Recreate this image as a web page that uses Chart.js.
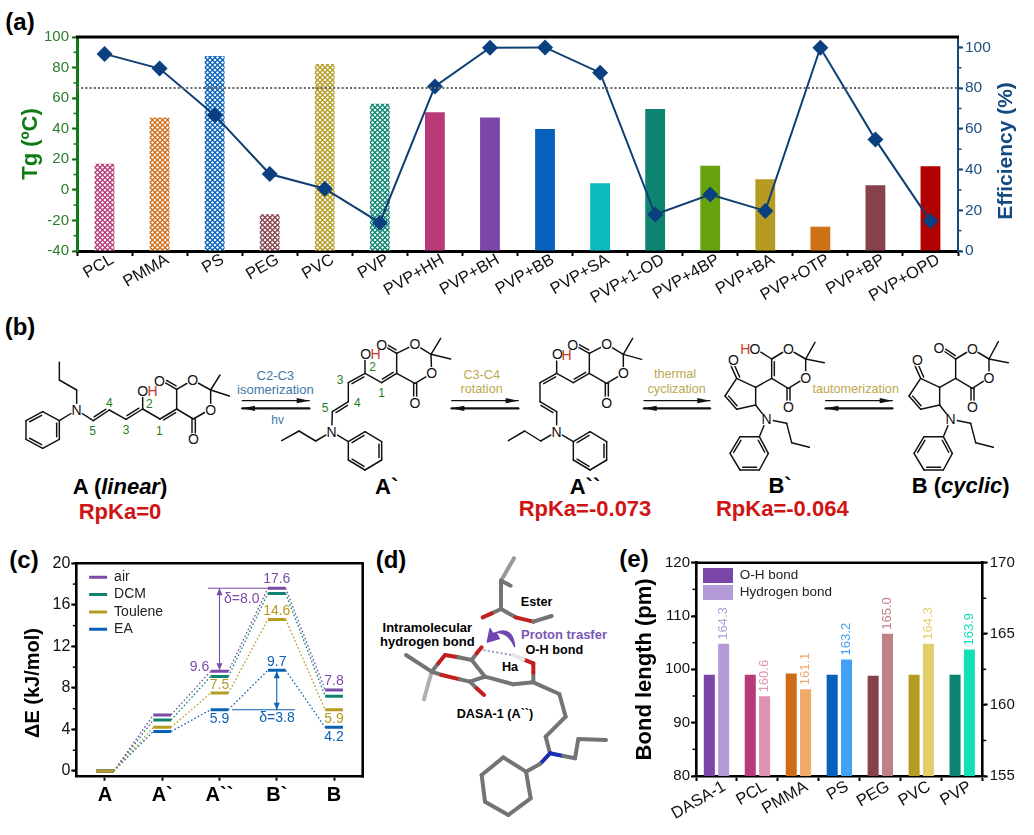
<!DOCTYPE html>
<html><head><meta charset="utf-8">
<script src="https://cdn.jsdelivr.net/npm/chart.js@4"></script>
<style>
html,body{margin:0;padding:0;background:#fff;width:1034px;height:835px;overflow:hidden}
canvas,svg{position:absolute}
</style></head><body>
<svg id="art" width="1034" height="835" style="left:0;top:0"></svg>
<canvas id="ca" width="1034" height="310" style="left:0;top:0;width:1034px;height:310px"></canvas>
<canvas id="cc" width="370" height="300" style="left:0;top:535px;width:370px;height:300px"></canvas>
<canvas id="ce" width="414" height="300" style="left:620px;top:535px;width:414px;height:300px"></canvas>
<script>
// ---------- panel (a) data
const polymerCategories = ['PCL','PMMA','PS','PEG','PVC','PVP','PVP+HH','PVP+BH','PVP+BB','PVP+SA','PVP+1-OD','PVP+4BP','PVP+BA','PVP+OTP','PVP+BP','PVP+OPD'];
const tgValues = [17.1,47.4,87.5,-16,82.3,56.3,50.7,47.3,39.8,4.3,52.9,15.8,7,-24.1,3,15.4];
const efficiencyValues = [96.8,89.6,66.7,37.8,30.6,13.9,80.8,99.8,100,87.6,17.9,27.7,19.7,99.8,54.7,14.7];
const barColors = ['#b83a78','#cf6d17','#0561bc','#85424a','#b59b22','#0b8470','#b83a78','#7a47a8','#0561bc','#0cb9bc','#0d8470','#68a30f','#b59b22','#cf7115','#85424a','#b00000'];
const hatchedBars = 6;
const efficiencyThreshold = 80;
// ---------- panel (c) data
const stateLabels = ['A','A`','A``','B`','B'];
const airEnergy = [0,5.4,9.6,17.6,7.8];
const dcmEnergy = [0,4.9,9.1,17.1,7.2];
const toluleneEnergy = [0,4.2,7.5,14.6,5.9];
const eaEnergy = [0,3.8,5.9,9.7,4.2];
// ---------- panel (e) data
const bondCategories = ['DASA-1','PCL','PMMA','PS','PEG','PVC','PVP'];
const ohBond = [99,99,99.2,99,98.8,99,99];
const hydrogenBond = [164.3,160.6,161.1,163.2,165.0,164.3,163.9];
const ohColors = ['#7a47a8','#b83a78','#cf6d17','#0561bc','#85424a','#b59b22','#0d8470'];
const hbColors = ['#b49bd8','#dd92b2','#f0ab6c','#44a0f5','#c08088','#e2cf6b','#14e0b8'];

const SANS = '"Liberation Sans", Arial, sans-serif';
Chart.defaults.font.family = SANS;
Chart.defaults.animation = false;
Chart.defaults.devicePixelRatio = 1;

function hatch(color){
  const c=document.createElement('canvas');c.width=c.height=5;
  const g=c.getContext('2d');g.fillStyle=color;g.fillRect(0,0,5,5);g.fillStyle='#fff';
  const r=1.6;
  [[2.5,2.5],[0,0],[5,0],[0,5],[5,5]].forEach(([x,y])=>{g.beginPath();g.moveTo(x-r,y);g.lineTo(x,y-r);g.lineTo(x+r,y);g.lineTo(x,y+r);g.closePath();g.fill();});
  return g.createPattern(c,'repeat');
}
const deco = {
  id:'deco',
  afterLayout(chart,args,o){
    if(o.legendShift && chart.legend){chart.legend.left+=o.legendShift[0];chart.legend.top+=o.legendShift[1];}
  },
  afterDatasetsDraw(chart,args,o){
    const g=chart.ctx,a=chart.chartArea;
    g.save();
    (o.minor||[]).forEach(m=>{
      const s=chart.scales[m.id];const dir=s.position==='left'?-1:1;
      const edge=s.position==='left'?a.left:a.right;
      g.strokeStyle=m.color;g.lineWidth=m.width||1.5;
      for(let v=Math.ceil(s.min/m.step)*m.step;v<=s.max;v+=m.step){
        const y=s.getPixelForValue(v);
        g.beginPath();g.moveTo(edge,y);g.lineTo(edge+dir*(m.len||3.5),y);g.stroke();
      }
    });
    (o.frame||[]).forEach(f=>{
      g.strokeStyle=f.color;g.lineWidth=f.width;g.beginPath();
      if(f.side==='top'){g.moveTo(a.left-1,a.top);g.lineTo(a.right+1,a.top);}
      if(f.side==='right'){g.moveTo(a.right,a.top-1);g.lineTo(a.right,a.bottom+1);}
      g.stroke();
    });
    if(o.draw)o.draw(chart,g);
    g.restore();
  }
};
function txt(g,t,x,y,color,font,rot){
  g.save();g.translate(x,y);if(rot)g.rotate(rot);
  g.font=font;g.fillStyle=color;g.textAlign='center';g.textBaseline='middle';g.fillText(t,0,0);g.restore();
}
function fixW(w){return s=>{s.width=w;};}
function fixH(h){return s=>{s.height=h;};}

// ---------- chart (a)
const GREEN='#0f7b14', NAVY='#154a80';
new Chart(document.getElementById('ca'),{
  type:'bar',
  plugins:[deco],
  data:{labels:polymerCategories,datasets:[
    {type:'line',label:'Efficiency',data:efficiencyValues,yAxisID:'y1',order:0,borderColor:'#0f3f72',borderWidth:2,tension:0,
     pointStyle:'rectRot',pointRadius:8,pointBackgroundColor:'#0a4080',pointBorderColor:'#0a4080',pointBorderWidth:0},
    {type:'bar',label:'Tg',data:tgValues,yAxisID:'y',order:1,base:-40,barPercentage:0.36,categoryPercentage:1,
     backgroundColor:barColors.map((c,i)=>i<hatchedBars?hatch(c):c)}
  ]},
  options:{responsive:false,maintainAspectRatio:false,
    layout:{padding:{top:37,left:0,right:0,bottom:0}},
    plugins:{legend:{display:false},tooltip:{enabled:false},
      deco:{
        minor:[{id:'y',step:10,color:GREEN},{id:'y1',step:10,color:NAVY}],
        frame:[{side:'top',color:'#000',width:3}],
        draw(chart,g){
          const a=chart.chartArea,y=chart.scales.y1.getPixelForValue(efficiencyThreshold);
          g.strokeStyle='#666';g.lineWidth=2;g.setLineDash([2,2.2]);
          g.beginPath();g.moveTo(a.left,y);g.lineTo(a.right,y);g.stroke();g.setLineDash([]);
          txt(g,'Efficiency (%)',1006.5,151,'#134a80','bold 21px '+SANS,-Math.PI/2);
        }
      }},
    scales:{
      x:{afterFit:fixH(59),grid:{drawOnChartArea:false,tickLength:5,tickWidth:2,tickColor:'#000'},border:{color:'#000',width:3},
        ticks:{color:'#111',font:{size:16.5},minRotation:30,maxRotation:30,autoSkip:false,padding:-6,labelOffset:8}},
      y:{position:'left',min:-40,max:100,afterFit:fixW(77),grid:{drawOnChartArea:false,tickLength:5,tickWidth:2,tickColor:GREEN},border:{color:GREEN,width:3},
        ticks:{stepSize:20,color:'#2a7d2a',font:{size:15},padding:3},
        title:{display:true,text:'Tg (ºC)',color:GREEN,font:{size:22,weight:'bold'},padding:{top:18,bottom:0}}},
      y1:{position:'right',min:0,max:105.1,afterFit:fixW(76),grid:{drawOnChartArea:false,tickLength:5,tickWidth:2,tickColor:NAVY},border:{color:NAVY,width:2},
        afterBuildTicks(s){s.ticks=[0,20,40,60,80,100].map(v=>({value:v}));},
        ticks:{color:'#1d4e80',font:{size:15.5},padding:2}}
    }
  }
});

// ---------- chart (c)
const LEVEL=0.155;
function levelPoints(arr){const p=[];arr.forEach((v,i)=>{p.push({x:i-LEVEL,y:v});p.push({x:i+LEVEL,y:v});});return p;}
const segStyle={
  borderDash:c=>c.p0DataIndex%2?[1.6,2.2]:[],
  borderWidth:c=>c.p0DataIndex%2?1.3:3
};
const cAir='#7b4ba8',cDcm='#0e8470',cTol='#b59b22',cEa='#0a62b5';
function series(label,arr,color,order){return {label,data:levelPoints(arr),borderColor:color,backgroundColor:color,borderWidth:3,pointRadius:0,tension:0,order,segment:segStyle};}
function harrow(g,x,y,dir,c){g.fillStyle=c;g.beginPath();g.moveTo(x,y);g.lineTo(x-3,y-dir*7);g.lineTo(x+3,y-dir*7);g.closePath();g.fill();}
new Chart(document.getElementById('cc'),{
  type:'line',
  plugins:[deco],
  data:{datasets:[series('air',airEnergy,cAir,1),series('DCM',dcmEnergy,cDcm,2),series('Toulene',toluleneEnergy,cTol,0),series('EA',eaEnergy,cEa,3)]},
  options:{responsive:false,maintainAspectRatio:false,
    layout:{padding:{top:28.3,right:7.3}},
    plugins:{tooltip:{enabled:false},
      legend:{position:'chartArea',align:'start',
        labels:{boxWidth:18,boxHeight:3,padding:3.3,font:{size:14},color:'#222',
          generateLabels:ch=>ch.data.datasets.map((d,i)=>({text:d.label,fillStyle:d.borderColor,strokeStyle:d.borderColor,lineWidth:0,datasetIndex:i,fontColor:'#222'}))}},
      deco:{
        legendShift:[9.5,32],
        minor:[{id:'y',step:2,color:'#000'}],
        frame:[{side:'top',color:'#000',width:2.6},{side:'right',color:'#000',width:2.6}],
        draw(chart,g){
          const X=chart.scales.x,Y=chart.scales.y,f='14px '+SANS;
          const lab=(arr,i,c,dx,dy)=>txt(g,arr[i].toFixed(1),X.getPixelForValue(i)+dx,Y.getPixelForValue(arr[i])+dy,c,f);
          lab(airEnergy,2,cAir,-20,-4);lab(airEnergy,3,cAir,0,-9);lab(airEnergy,4,cAir,0,-9);
          lab(toluleneEnergy,2,cTol,0,-8);lab(toluleneEnergy,3,cTol,0,-8);lab(toluleneEnergy,4,cTol,0,9);
          lab(eaEnergy,2,cEa,0,9);lab(eaEnergy,3,cEa,0,-8);lab(eaEnergy,4,cEa,0,9.5);
          // delta brackets
          let xa=X.getPixelForValue(2),y1=Y.getPixelForValue(airEnergy[3]),y2=Y.getPixelForValue(airEnergy[2]);
          g.strokeStyle=cAir;g.lineWidth=1.1;g.beginPath();g.moveTo(xa-11.5,y1);g.lineTo(X.getPixelForValue(3)-9,y1);g.moveTo(xa,y1);g.lineTo(xa,y2);g.stroke();
          harrow(g,xa,y1,-1,cAir);harrow(g,xa,y2-1,1,cAir);
          txt(g,'δ='+(airEnergy[3]-airEnergy[2]).toFixed(1),241.7,64,cAir,f);
          xa=X.getPixelForValue(3);y1=Y.getPixelForValue(eaEnergy[3]);y2=Y.getPixelForValue(eaEnergy[2]);
          g.strokeStyle=cEa;g.beginPath();g.moveTo(232,y2);g.lineTo(295,y2);g.moveTo(xa,y1);g.lineTo(xa,y2);g.stroke();
          harrow(g,xa,y1+1,-1,cEa);harrow(g,xa,y2,1,cEa);
          txt(g,'δ='+(eaEnergy[3]-eaEnergy[2]).toFixed(1),277,183,cEa,f);
          txt(g,'ΔE (kJ/mol)',33,148,'#000','bold 20px '+SANS,-Math.PI/2);
        }
      }},
    scales:{
      x:{type:'linear',min:-0.5,max:4.5,afterFit:fixH(58.3),
        afterBuildTicks(s){s.ticks=stateLabels.map((_,i)=>({value:i}));},
        grid:{drawOnChartArea:false,tickLength:4,tickWidth:2,tickColor:'#000'},border:{color:'#000',width:2.6},
        ticks:{autoSkip:false,maxRotation:0,color:'#000',font:{size:20,weight:'bold'},padding:3,callback:v=>stateLabels[v]}},
      y:{min:-0.55,max:20,afterFit:fixW(76.3),
        afterBuildTicks(s){s.ticks=[0,4,8,12,16,20].map(v=>({value:v}));},
        grid:{drawOnChartArea:false,tickLength:5,tickWidth:2,tickColor:'#000'},border:{color:'#000',width:2.6},
        ticks:{color:'#111',font:{size:16},padding:1}}
    }
  }
});

// ---------- chart (e)
new Chart(document.getElementById('ce'),{
  type:'bar',
  plugins:[deco],
  data:{labels:bondCategories,datasets:[
    {label:'O-H bond',data:ohBond,yAxisID:'y',backgroundColor:ohColors,categoryPercentage:0.7,barPercentage:0.77},
    {label:'Hydrogen bond',data:hydrogenBond,yAxisID:'y1',backgroundColor:hbColors,categoryPercentage:0.7,barPercentage:0.77}
  ]},
  options:{responsive:false,maintainAspectRatio:false,
    layout:{padding:{top:27.7}},
    plugins:{tooltip:{enabled:false},
      legend:{position:'chartArea',align:'start',
        labels:{boxWidth:30,boxHeight:15,padding:2,font:{size:13.5},color:'#222',
          generateLabels:ch=>ch.data.datasets.map((d,i)=>({text:d.label,fillStyle:d.backgroundColor[0],strokeStyle:d.backgroundColor[0],lineWidth:0,datasetIndex:i,fontColor:'#222'}))}},
      deco:{
        legendShift:[5,31],
        minor:[{id:'y',step:5,color:'#000'},{id:'y1',step:2.5,color:'#000'}],
        frame:[{side:'top',color:'#000',width:2.6}],
        draw(chart,g){
          const m=chart.getDatasetMeta(1);
          m.data.forEach((b,i)=>{
            g.save();g.translate(b.x,b.y-4);g.rotate(-Math.PI/2);
            g.font='13px '+SANS;g.fillStyle=hbColors[i];g.textAlign='left';g.textBaseline='middle';
            g.fillText(hydrogenBond[i].toFixed(1),0,0);g.restore();
          });
        }
      }},
    scales:{
      x:{afterFit:fixH(59),grid:{offset:true,drawOnChartArea:false,tickLength:5,tickWidth:2,tickColor:'#000'},border:{color:'#000',width:2.6},
        ticks:{color:'#111',font:{size:16.5},minRotation:30,maxRotation:30,autoSkip:false,padding:-4,labelOffset:8}},
      y:{position:'left',min:80,max:120,afterFit:fixW(76),grid:{drawOnChartArea:false,tickLength:5,tickWidth:2,tickColor:'#000'},border:{color:'#000',width:2.6},
        ticks:{stepSize:10,color:'#111',font:{size:15},padding:1},
        title:{display:true,text:'Bond length (pm)',color:'#000',font:{size:22,weight:'bold'},padding:{top:12,bottom:0}}},
      y1:{position:'right',min:155,max:170,afterFit:fixW(51.3),grid:{drawOnChartArea:false,tickLength:5,tickWidth:2,tickColor:'#000'},border:{color:'#000',width:2.6},
        ticks:{stepSize:5,color:'#111',font:{size:15},padding:2}}
    }
  }
});

// ---------- schematic artwork (structures, stick model, panel letters)
const NS='http://www.w3.org/2000/svg';
const svg=document.getElementById('art');
function el(name,attrs,parent,text){const e=document.createElementNS(NS,name);for(const k in attrs)e.setAttribute(k,attrs[k]);if(text!==undefined)e.textContent=text;(parent||svg).appendChild(e);return e;}
function layer(ox,oy){return el('g',{transform:`translate(${ox},${oy}) scale(${1/3})`});}
function line(g,a,b,w,c){el('line',{x1:a[0],y1:a[1],x2:b[0],y2:b[1],stroke:c||'#111','stroke-width':w||4.4,'stroke-linecap':'round'},g);}
function poly(g,pts,closed){for(let i=0;i<pts.length-1;i++)line(g,pts[i],pts[i+1]);if(closed)line(g,pts[pts.length-1],pts[0]);}
function dbl(g,a,b,cx,cy){
  const dx=b[0]-a[0],dy=b[1]-a[1],L=Math.hypot(dx,dy);let nx=-dy/L,ny=dx/L;
  const mx=(a[0]+b[0])/2,my=(a[1]+b[1])/2;if((cx-mx)*nx+(cy-my)*ny<0){nx=-nx;ny=-ny;}
  const o=8,s=.14;line(g,[a[0]+dx*s+nx*o,a[1]+dy*s+ny*o],[b[0]-dx*s+nx*o,b[1]-dy*s+ny*o]);
}
function T(g,t,x,y,o){o=o||{};el('text',{x,y,'text-anchor':o.a||'middle','dominant-baseline':'central','font-family':SANS,'font-size':o.s||39,'font-weight':o.b?'bold':'normal','font-style':o.i?'italic':'normal',fill:o.c||'#111'},g,t);}
function Rich(g,runs,x,y,size){
  const e=el('text',{x,y,'text-anchor':'middle','dominant-baseline':'central','font-family':SANS,'font-size':size,'font-weight':'bold',fill:'#000'},g);
  runs.forEach(r=>el('tspan',r[1]?{'font-style':'italic'}:{},e,r[0]));
}
function atom(g,t,x,y,c){el('circle',{cx:x,cy:y,r:19,fill:'#fff'},g);T(g,t,x,y,{s:42,c});}
function num(g,t,x,y){T(g,t,x,y,{s:36,c:'#1f7d25'});}
function phenyl(g,p){poly(g,p,true);const cx=p.reduce((s,q)=>s+q[0],0)/6,cy=p.reduce((s,q)=>s+q[1],0)/6;[0,2,4].forEach(i=>dbl(g,p[i],p[(i+1)%6],cx,cy));}
function arrows(g,x1,x2){
  line(g,[x1,272],[x2,272],3.5,'#111');el('polygon',{points:`${x2},272 ${x2-38},264 ${x2-38},280`,fill:'#111'},g);
  line(g,[x1,295],[x2,295],7,'#111');el('polygon',{points:`${x1},295 ${x1+38},287 ${x1+38},303`,fill:'#111'},g);
}
const BLUE='#3f78a8',OLIVE='#bda94c',RED='#c83a28';
let g=layer(0,310);
poly(g,[[178,157],[178,210],[230,240],[230,300]]);
phenyl(g,[[178,332],[178,388],[128,415],[78,388],[78,332],[128,305]]);
line(g,[230,300],[178,332]);
poly(g,[[230,300],[280,332],[328,300],[378,328],[428,297],[480,327],[530,297],[530,238],[578,210],[632,240],[632,297],[580,327],[530,297]]);
dbl(g,[280,332],[328,300],300,280);dbl(g,[378,328],[428,297],400,280);dbl(g,[480,327],[530,297],500,350);
line(g,[428,297],[428,250]);line(g,[530,238],[490,215]);dbl(g,[530,238],[490,215],520,200);
line(g,[576,327],[576,380]);line(g,[586,327],[586,375]);
line(g,[632,240],[660,195]);line(g,[632,240],[688,258]);
atom(g,'N',230,300);atom(g,'O',578,210);atom(g,'O',632,300);atom(g,'O',478,213);atom(g,'O',580,388);atom(g,'O',428,242);
T(g,'H',458,242,{s:42,c:RED});
num(g,'5',278,362);num(g,'4',328,278);num(g,'3',378,360);num(g,'2',448,282);num(g,'1',478,362);
Rich(g,[['A ('],['linear',1],[')']],360,528,66);
T(g,'RpKa=0',360,605,{s:66,b:1,c:'#d01414'});
arrows(g,727,928);
T(g,'C2-C3',826,196,{s:39,c:BLUE});T(g,'isomerization',826,237,{s:39,c:BLUE});T(g,'hv',833,330,{s:36,c:BLUE});
poly(g,[[1190,190],[1190,130],[1245,103],[1293,133],[1295,190],[1245,220],[1190,190]]);
poly(g,[[1190,190],[1145,218],[1095,190],[1045,218],[1045,275],[997,305],[995,365]]);
dbl(g,[1190,190],[1145,218],1170,170);dbl(g,[1095,190],[1045,218],1075,240);dbl(g,[1045,275],[997,305],1020,330);
line(g,[1095,190],[1095,140]);line(g,[1190,130],[1150,107]);dbl(g,[1190,130],[1150,107],1180,90);
line(g,[1241,220],[1241,270]);line(g,[1250,220],[1250,265]);
line(g,[1293,133],[1322,85]);line(g,[1293,133],[1352,147]);
poly(g,[[995,365],[947,393],[897,363],[845,392]]);line(g,[995,365],[1045,395]);
phenyl(g,[[1045,395],[1095,365],[1145,395],[1145,450],[1095,480],[1045,450]]);
atom(g,'N',995,365);atom(g,'O',1245,103);atom(g,'O',1295,190);atom(g,'O',1145,105);atom(g,'O',1245,278);atom(g,'O',1097,131);
T(g,'H',1127,132,{s:42,c:RED});
num(g,'3',1020,210);num(g,'2',1118,172);num(g,'1',1145,248);num(g,'4',1072,278);num(g,'5',975,295);
T(g,'A`',1160,530,{s:66,b:1,c:'#000'});
arrows(g,1355,1555);
T(g,'C3-C4',1445,195,{s:38,c:OLIVE});T(g,'rotation',1445,237,{s:38,c:OLIVE});
g=layer(510,310);
poly(g,[[238,190],[238,130],[290,103],[340,133],[340,190],[290,220],[238,190]]);
poly(g,[[238,190],[190,218],[140,190],[90,218],[90,275],[140,305],[140,365]]);
dbl(g,[238,190],[190,218],215,170);dbl(g,[140,190],[90,218],130,240);dbl(g,[90,275],[140,305],115,330);
line(g,[140,190],[140,145]);line(g,[238,130],[196,107]);dbl(g,[238,130],[196,107],230,90);
line(g,[286,220],[286,270]);line(g,[295,220],[295,265]);
line(g,[340,133],[368,85]);line(g,[340,133],[395,148]);
poly(g,[[140,365],[92,393],[44,363],[-5,392]]);line(g,[140,365],[190,395]);
phenyl(g,[[190,395],[240,365],[290,395],[290,450],[240,480],[190,450]]);
atom(g,'N',140,365);atom(g,'O',290,103);atom(g,'O',340,190);atom(g,'O',188,105);atom(g,'O',290,278);atom(g,'O',142,133);
T(g,'H',170,135,{s:42,c:RED});
T(g,'A``',225,528,{s:66,b:1,c:'#000'});T(g,'RpKa=-0.073',225,595,{s:66,b:1,c:'#d01414'});
arrows(g,402,600);
T(g,'thermal',495,193,{s:38,c:OLIVE});T(g,'cyclization',500,237,{s:38,c:OLIVE});
function cyclo(g,s){
  poly(g,[[s+737,232],[s+680,205],[s+645,258],[s+680,298],[s+737,285],[s+737,232]]);
  line(g,[s+737,232],[s+785,205]);
  dbl(g,[s+645,258],[s+680,298],s+690,250);
  line(g,[s+680,205],[s+662,165]);line(g,[s+689,201],[s+672,162]);
  poly(g,[[s+737,285],[s+770,328],[s+830,340],[s+845,398],[s+898,412]]);
  line(g,[s+770,328],[s+748,380]);
  phenyl(g,[[s+748,380],[s+775,430],[s+748,480],[s+690,480],[s+660,430],[s+690,380]]);
  atom(g,'O',s+670,150);atom(g,'N',s+770,328);
}
cyclo(g,0);
poly(g,[[785,205],[785,147],[835,117],[887,147],[887,203],[835,235],[785,205]]);
dbl(g,[785,205],[785,147],810,175);
line(g,[785,147],[750,125]);line(g,[887,147],[915,97]);line(g,[887,147],[943,158]);
line(g,[831,235],[831,280]);line(g,[840,235],[840,277]);
atom(g,'O',835,117);atom(g,'O',887,203);atom(g,'O',835,290);atom(g,'O',735,117);
T(g,'H',706,117,{s:42,c:RED});
T(g,'B`',810,525,{s:66,b:1,c:'#000'});T(g,'RpKa=-0.064',817,595,{s:66,b:1,c:'#d01414'});
arrows(g,947,1147);
T(g,'tautomerization',1037,237,{s:38,c:OLIVE});
cyclo(g,552);
poly(g,[[1337,205],[1337,147],[1387,117],[1437,147],[1437,203],[1387,235],[1337,205]]);
line(g,[1337,147],[1297,120]);dbl(g,[1337,147],[1297,120],1325,105);
line(g,[1437,147],[1465,95]);line(g,[1437,147],[1495,158]);
line(g,[1383,235],[1383,280]);line(g,[1392,235],[1392,277]);
atom(g,'O',1387,117);atom(g,'O',1437,203);atom(g,'O',1387,290);atom(g,'O',1287,115);
Rich(g,[['B ('],['cyclic',1],[')']],1352,525,66);
g=layer(370,540);
const GY='#747474',LG='#b0b0b0',RD='#c02020',BL='#1a2fb0';
const sticks=[
 [432,55,393,122,'#999'],[393,122,422,137,GY],[393,122,393,207,GY],[393,207,365,220,GY],[365,220,338,232,RD],
 [393,207,437,232,GY],[437,232,490,245,RD],[490,245,545,228,GY],
 [108,345,185,395,GY],[162,478,185,395,LG],[185,395,205,370,GY],[205,370,225,345,RD],[225,345,265,352,RD],[265,352,305,360,GY],
 [305,360,320,340,GY],[320,340,335,322,RD],[305,360,345,410,GY],[185,395,215,405,GY],[215,405,270,418,RD],[270,418,300,425,GY],
 [300,425,345,410,GY],[300,425,320,445,GY],[320,445,342,465,RD],[345,410,430,433,GY],[430,433,490,427,GY],
 [490,427,490,398,GY],[490,398,490,370,RD],[490,370,460,358,RD],[460,358,430,345,'#e6e6e6'],
 [490,427,568,462,GY],[568,462,587,530,GY],[587,530,527,590,GY],[527,590,540,640,GY],
 [540,640,510,672,BL],[510,672,468,695,GY],[540,640,580,648,BL],[580,648,615,655,GY],[615,655,625,597,GY],[625,597,708,600,GY],
 [468,695,400,652,GY],[400,652,335,705,GY],[335,705,345,785,GY],[345,785,415,825,GY],[415,825,482,775,GY],[482,775,468,695,GY]
];
sticks.forEach(s=>line(g,[s[0],s[1]],[s[2],s[3]],12,s[4]));
el('line',{x1:340,y1:330,x2:425,y2:345,stroke:'#a8a8c8','stroke-width':6,'stroke-dasharray':'7 6'},g);
el('path',{d:'M434 320 Q428 258 378 278 L388 296 L352 306 L360 266 L368 280 Q410 268 434 320 Z',fill:'#6f45b0',stroke:'#6f45b0','stroke-width':4,'stroke-linejoin':'round'},g);
T(g,'Ester',500,185,{b:1,s:38,c:'#000'});
T(g,'Intramolecular',172,262,{b:1,s:39,c:'#000'});T(g,'hydrogen bond',172,304,{b:1,s:39,c:'#000'});
T(g,'Proton trasfer',582,283,{b:1,s:39,c:'#7b57b5'});T(g,'O-H bond',553,330,{b:1,s:38,c:'#000'});
T(g,'Ha',420,382,{b:1,s:38,c:'#000'});T(g,'DASA-1 (A``)',375,522,{b:1,s:38,c:'#000'});
[['(a)',20,21],['(b)',20,326],['(c)',24,559],['(d)',391,559],['(e)',634,558]].forEach(p=>
  el('text',{x:p[1],y:p[2],'text-anchor':'middle','dominant-baseline':'central','font-family':SANS,'font-size':24,'font-weight':'bold',fill:'#000'},svg,p[0]));
</script>
</body></html>
